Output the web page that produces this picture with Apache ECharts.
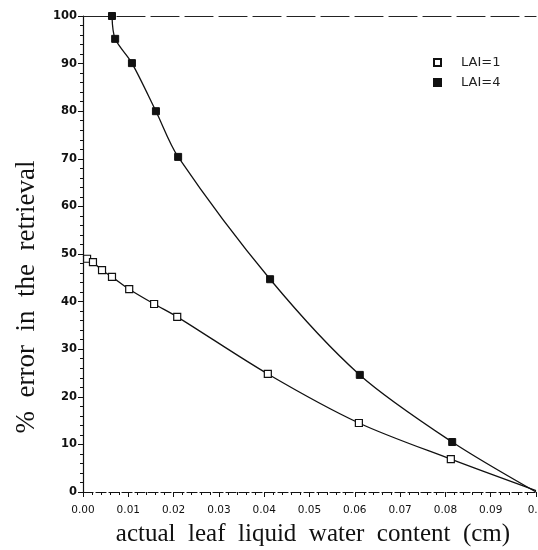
<!DOCTYPE html>
<html>
<head>
<meta charset="utf-8">
<script src="https://cdn.jsdelivr.net/npm/echarts@6/dist/echarts.min.js"></script>
<style>
html,body{margin:0;padding:0;background:#fff;overflow:hidden;}
#chart{width:538px;height:550px;}
</style>
</head>
<body>
<div id="chart"></div>
<script>
// ---- data ----
const xTickLabels = ['0.00','0.01','0.02','0.03','0.04','0.05','0.06','0.07','0.08','0.09','0.1'];
const yTickLabels = ['0','10','20','30','40','50','60','70','80','90','100'];

const lai1X = [0, 0.0009, 0.0022, 0.0042, 0.0064, 0.0102, 0.0157, 0.0208, 0.0408, 0.0609, 0.0812, 0.1];
const lai1Y = [49.5, 49.0, 48.3, 46.6, 45.2, 42.6, 39.5, 36.8, 24.8, 14.5, 6.9, 0.3];

const lai4X = [0.0064, 0.0071, 0.0108, 0.0161, 0.0210, 0.0413, 0.0611, 0.0815, 0.1];
const lai4Y = [100, 95.2, 90.1, 80, 70.4, 44.7, 24.6, 10.5, 0];

const seriesNames = ['LAI=1', 'LAI=4'];
const xTitle = 'actual leaf liquid water content (cm)';
const yTitle = '% error in the retrieval';

// ---- chart ----
const chart = echarts.init(document.getElementById('chart'), null, {renderer: 'canvas'});
const pair = (xs, ys) => xs.map((x, i) => [x, ys[i]]);
const lai1 = pair(lai1X, lai1Y);
const lai4 = pair(lai4X, lai4Y);
const sans = 'DejaVu Sans';
const serif = 'Liberation Serif';
const wide = (s) => s.split(' ').join('  ');

function endSymbol(arr, shape, skipFirst) {
  return function (val, params) {
    const i = params.dataIndex;
    if ((skipFirst && i === 0) || i === arr.length - 1) return 'none';
    return shape;
  };
}

chart.setOption({
  animation: false,
  backgroundColor: '#fff',
  grid: {left: 83, right: 2, top: 16, bottom: 58, containLabel: false, outerBoundsMode: 'none'},
  legend: {
    orient: 'vertical',
    left: 428, top: 51,
    itemWidth: 7, itemHeight: 7, itemGap: 7,
    icon: 'rect',
    textStyle: {fontFamily: sans, fontSize: 13, color: '#222', padding: [0, 0, 0, 15]},
    data: seriesNames
  },
  xAxis: [{
    type: 'value', min: 0, max: 0.1, interval: 0.01,
    axisLine: {show: true, lineStyle: {color: '#111', width: 1.2, type: [10, 3]}},
    axisTick: {show: true, length: 5, lineStyle: {color: '#111'}},
    minorTick: {show: true, splitNumber: 5, length: 3, lineStyle: {color: '#111'}},
    splitLine: {show: false},
    axisLabel: {
      margin: 13, fontFamily: sans, fontSize: 10.5, color: '#111',
      formatter: (v) => xTickLabels[Math.round(v * 100)]
    }
  }, {
    type: 'value', min: 0, max: 0.1, position: 'top',
    axisLine: {show: true, lineStyle: {color: '#222', width: 1.2, type: [28, 6]}},
    axisTick: {show: false}, axisLabel: {show: false}, splitLine: {show: false}
  }],
  yAxis: {
    type: 'value', min: 0, max: 100, interval: 10,
    axisLine: {show: true, lineStyle: {color: '#111', width: 1.2}},
    axisTick: {show: true, length: 5, lineStyle: {color: '#111'}},
    minorTick: {show: true, splitNumber: 5, length: 3, lineStyle: {color: '#111'}},
    splitLine: {show: false},
    axisLabel: {
      margin: 6, fontFamily: sans, fontSize: 11.5, color: '#111', fontWeight: 'bold',
      formatter: (v) => yTickLabels[Math.round(v / 10)]
    }
  },
  graphic: [
    {type: 'text', x: 27, y: 297, rotation: Math.PI / 2,
     style: {text: wide(yTitle), fontFamily: serif, fontSize: 27, fill: '#111', align: 'center', verticalAlign: 'middle'}},
    {type: 'text', x: 313, y: 534,
     style: {text: wide(xTitle), fontFamily: serif, fontSize: 25, fill: '#111', align: 'center', verticalAlign: 'middle'}}
  ],
  series: [{
    name: seriesNames[0], type: 'line', data: lai1,
    smooth: 0.3,
    symbol: endSymbol(lai1, 'rect', true), symbolSize: 7,
    showAllSymbol: true,
    lineStyle: {color: '#111', width: 1.3},
    itemStyle: {color: '#fff', borderColor: '#111', borderWidth: 1.2}
  }, {
    name: seriesNames[1], type: 'line', data: lai4,
    smooth: 0.3,
    symbol: endSymbol(lai4, 'rect', false), symbolSize: 7,
    showAllSymbol: true,
    lineStyle: {color: '#111', width: 1.3},
    itemStyle: {color: '#111', borderColor: '#111', borderWidth: 1}
  }]
});
</script>
</body>
</html>
